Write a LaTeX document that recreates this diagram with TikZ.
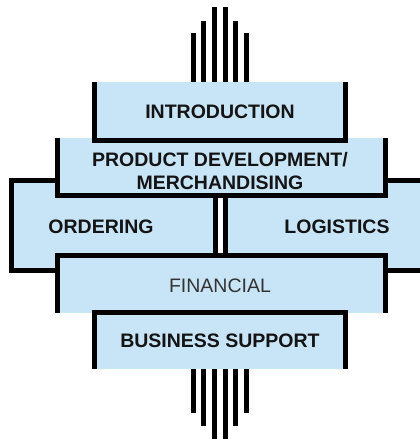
\documentclass[tikz,border=0pt]{standalone}
\usepackage{fontspec}
\setmainfont{Liberation Sans}
\definecolor{boxblue}{RGB}{200,228,247}
\definecolor{txt}{RGB}{20,20,20}
\definecolor{fintxt}{RGB}{51,51,51}
\begin{document}
\begin{tikzpicture}[x=1pt,y=-1pt,
  bfill/.style={fill=boxblue},
  bline/.style={draw=black,line width=5pt,miter limit=10},
  bar/.style={fill=black},
  lbl/.style={inner sep=0pt,anchor=base,text=txt,font=\fontsize{19.5}{23}\selectfont\bfseries},
  fin/.style={inner sep=0pt,anchor=base,text=fintxt,font=\fontsize{19.5}{23}\selectfont}]
\useasboundingbox (0,0) rectangle (420,442);
% Ordering
\fill[bfill] (9,178) rectangle (218,273);
\draw[bline] (11.5,180.5) rectangle (215.5,270.5);
% Logistics
\fill[bfill] (223,178) rectangle (420,273);
\draw[bline] (422,180.5) -- (225.5,180.5) -- (225.5,270.5) -- (422,270.5);
% Product development
\fill[bfill] (55,138) rectangle (388,198);
\draw[bline] (57.5,138) -- (57.5,195.5) -- (385.5,195.5) -- (385.5,138);
% Financial
\fill[bfill] (55,253) rectangle (388,313);
\draw[bline] (57.5,313) -- (57.5,255.5) -- (385.5,255.5) -- (385.5,313);
% Introduction
\fill[bfill] (92,82) rectangle (348,143);
\draw[bline] (94.5,82) -- (94.5,140.5) -- (345.5,140.5) -- (345.5,82);
% Business support
\fill[bfill] (92,310) rectangle (348,369);
\draw[bline] (94.5,369) -- (94.5,312.5) -- (345.5,312.5) -- (345.5,369);
% bars top
\foreach \xx/\tp in {193.2/33,203.9/21,214.5/7,225.1/7,235.8/21,246.4/33}{
  \fill[bar] (\xx-2.5,\tp) rectangle (\xx+2.5,82);
}
% bars bottom
\foreach \xx/\bt in {193.2/413,203.9/426,214.5/439,225.1/439,235.8/426,246.4/413}{
  \fill[bar] (\xx-2.5,369) rectangle (\xx+2.5,\bt);
}
% labels
\node[lbl] (intro) at (220,118) {INTRODUCTION};
\node[lbl,anchor=center,align=center] (prod) at (220,171) {PRODUCT DEVELOPMENT/\\MERCHANDISING};
\node[lbl] (order) at (101,233) {ORDERING};
\node[lbl] (logi) at (337,233) {LOGISTICS};
\node[fin] (finan) at (220,292) {FINANCIAL};
\node[lbl] (busi) at (220,347) {BUSINESS SUPPORT};
\end{tikzpicture}
\end{document}
